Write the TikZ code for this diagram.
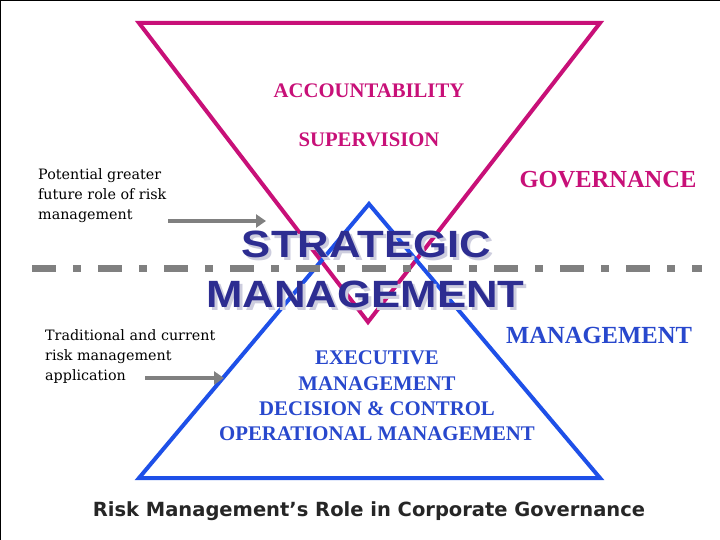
\documentclass[tikz,border=0pt]{standalone}
\usepackage{fontspec}
\setmainfont{Liberation Serif}
\newfontfamily\bigfont{Liberation Sans}
\newfontfamily\capfont{DejaVu Sans}
\newfontfamily\notefont{DejaVu Serif}
\definecolor{govcol}{RGB}{200,16,120}
\definecolor{mgtcol}{RGB}{30,80,232}
\definecolor{mgttext}{RGB}{40,72,205}
\definecolor{stratcol}{RGB}{45,45,145}
\definecolor{shadowcol}{RGB}{205,205,222}
\definecolor{arrowgray}{RGB}{128,128,128}
\tikzset{
  govtri/.style={draw=govcol, line width=4pt, line join=miter},
  mgttri/.style={draw=mgtcol, line width=4pt, line join=miter},
  govtext/.style={text=govcol, font=\bfseries\fontsize{20.7}{24}\selectfont},
  mgtblock/.style={text=mgttext, font=\bfseries\fontsize{20.8}{25.3}\selectfont, align=center},
  note/.style={font=\notefont\fontsize{14.3}{20}\selectfont, align=left, anchor=west, inner sep=0pt},
  bigword/.style={font=\bigfont\bfseries\fontsize{38}{38}\selectfont, inner sep=0pt},
  grayarrow/.style={draw=arrowgray, line width=4pt, -{Triangle[length=10pt,width=13pt]}}
}
\newcommand{\widen}[1]{\scalebox{1.15}[1]{#1}}
\usetikzlibrary{arrows.meta}
\begin{document}
\begin{tikzpicture}[x=1pt,y=-1pt]
    \useasboundingbox (0,0) rectangle (720,540);
    \fill[white] (0,0) rectangle (720,540);
    \draw[line width=2pt] (0,540) -- (0,0) -- (720,0);

    \coordinate (gl) at (139,23);
    \coordinate (gr) at (600,23);
    \coordinate (gb) at (368,322);
    \coordinate (mt) at (369,204);
    \coordinate (ml) at (139,478);
    \coordinate (mr) at (600,478);
    \draw[govtri] (gl) -- (gr) -- (gb) -- cycle;
    \draw[mgttri] (mt) -- (mr) -- (ml) -- cycle;

    \coordinate (dl) at (32,268);
    \coordinate (dr) at (702,268);
    \draw[arrowgray, line width=7pt, dash pattern=on 24pt off 17pt on 8pt off 17pt] (dl) -- (dr);

    \node[govtext] (acc) at (369,91) {ACCOUNTABILITY};
    \node[govtext] (sup) at (369,140) {SUPERVISION};
    \node[govtext, font=\bfseries\fontsize{24.5}{28}\selectfont] (gov) at (608,180) {GOVERNANCE};

    \node[bigword, text=shadowcol] (strs) at (369.5,247.5) {\widen{STRATEGIC}};
    \node[bigword, text=shadowcol] (mans) at (368.5,297) {\widen{MANAGEMENT}};
    \node[bigword, text=stratcol] (str) at (366.5,244.5) {\widen{STRATEGIC}};
    \node[bigword, text=stratcol] (man) at (365.5,294) {\widen{MANAGEMENT}};

    \node[text=mgttext, font=\bfseries\fontsize{24.6}{28}\selectfont] (mgt) at (599,335) {MANAGEMENT};
    \node[mgtblock] (exec) at (377,396) {EXECUTIVE\\MANAGEMENT\\DECISION \& CONTROL\\OPERATIONAL MANAGEMENT};

    \node[note] (future) at (38,196) {Potential greater\\future role of risk\\management};
    \node[note] (trad) at (45,357) {Traditional and current\\risk management\\application};

    \coordinate (fa) at (168,221);
    \coordinate (fb) at (266,221);
    \coordinate (ta) at (145,378);
    \coordinate (tb) at (224,378);
    \draw[grayarrow] (fa) -- (fb);
    \draw[grayarrow] (ta) -- (tb);

    \node[font=\capfont\bfseries\fontsize{19.5}{22}\selectfont, text=black!85] (title) at (369,511) {Risk Management’s Role in Corporate Governance};
\end{tikzpicture}
\end{document}
